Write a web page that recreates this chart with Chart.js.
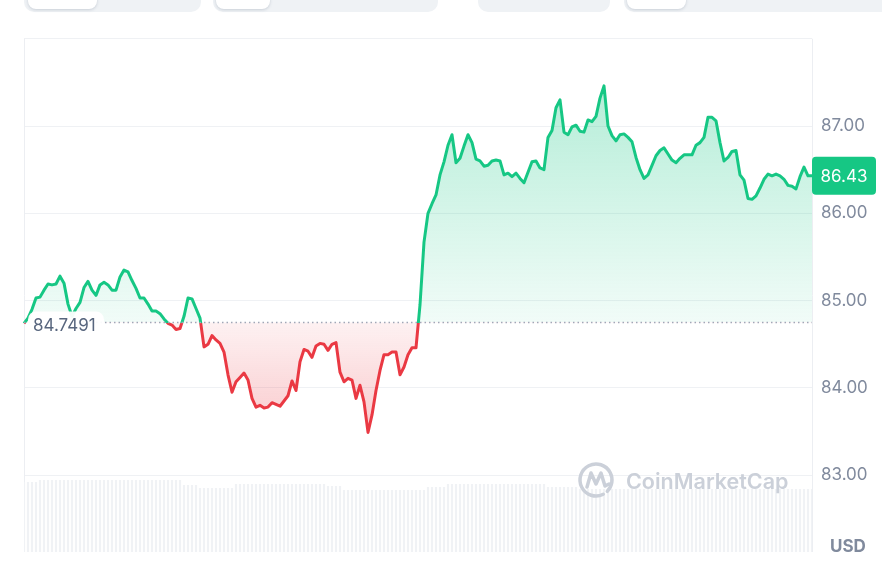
<!DOCTYPE html>
<html>
<head>
<meta charset="utf-8">
<script src="https://cdn.jsdelivr.net/npm/chart.js@4.4.0/dist/chart.umd.min.js"></script>
<style>
html, body { margin: 0; padding: 0; background: #fff; }
body { width: 882px; height: 566px; position: relative; overflow: hidden; font-family: Inter, sans-serif; }
.tab { position: absolute; top: -10px; height: 22px; background: #eff2f5; border-radius: 0 0 10px 10px; }
.btn { position: absolute; top: -10px; height: 19px; background: #fff; border-radius: 0 0 8px 8px; box-shadow: 0 1px 3px rgba(88, 102, 126, .25); }
#chart { position: absolute; left: 0; top: 0; }
</style>
</head>
<body>
<div class="tab" style="left:24px;width:177px"></div>
<div class="btn" style="left:28px;width:69px"></div>
<div class="tab" style="left:213px;width:225px"></div>
<div class="btn" style="left:216px;width:54px"></div>
<div class="tab" style="left:478px;width:132px"></div>
<div class="tab" style="left:624px;width:270px"></div>
<div class="btn" style="left:627px;width:59px"></div>
<canvas id="chart" width="882" height="566"></canvas>
<script>
const GREEN = '#16c784';
const RED = '#ea3943';
const BASE = 84.7491;   // opening price (dotted line)
const LAST = 86.43;     // current price tag
const yTicks = [83, 84, 85, 86, 87, 88];

// price, one point per sample (24h)
const prices = [
    84.74, 84.80, 84.90, 85.03, 85.04, 85.12, 85.19, 85.18, 85.19, 85.28,
    85.20, 84.96, 84.82, 84.91, 84.98, 85.15, 85.22, 85.12, 85.06, 85.18,
    85.21, 85.18, 85.12, 85.12, 85.27, 85.35, 85.33, 85.23, 85.14, 85.03,
    85.03, 84.96, 84.88, 84.88, 84.85, 84.79, 84.74, 84.72, 84.67, 84.68,
    84.82, 85.03, 85.02, 84.91, 84.80, 84.47, 84.50, 84.60, 84.55, 84.51,
    84.41, 84.15, 83.95, 84.07, 84.12, 84.17, 84.09, 83.88, 83.78, 83.80,
    83.77, 83.78, 83.83, 83.81, 83.79, 83.85, 83.91, 84.08, 83.97, 84.30,
    84.44, 84.42, 84.35, 84.48, 84.51, 84.50, 84.43, 84.50, 84.52, 84.18,
    84.07, 84.11, 84.09, 83.88, 84.03, 83.84, 83.49, 83.69, 83.97, 84.20,
    84.38, 84.38, 84.41, 84.41, 84.15, 84.24, 84.38, 84.46, 84.46, 84.95,
    85.67, 86.00, 86.11, 86.21, 86.44, 86.59, 86.78, 86.90, 86.58, 86.63,
    86.77, 86.90, 86.81, 86.62, 86.60, 86.54, 86.55, 86.60, 86.61, 86.60,
    86.44, 86.46, 86.42, 86.46, 86.40, 86.35, 86.47, 86.59, 86.60, 86.52,
    86.50, 86.87, 86.95, 87.21, 87.30, 86.93, 86.90, 86.99, 87.01, 86.94,
    86.93, 87.07, 87.05, 87.11, 87.32, 87.46, 87.00, 86.89, 86.83, 86.90,
    86.91, 86.87, 86.82, 86.64, 86.50, 86.40, 86.44, 86.55, 86.66, 86.72,
    86.75, 86.68, 86.61, 86.58, 86.63, 86.67, 86.67, 86.67, 86.78, 86.81,
    86.87, 87.10, 87.10, 87.06, 86.81, 86.60, 86.64, 86.71, 86.72, 86.44,
    86.38, 86.17, 86.16, 86.20, 86.29, 86.39, 86.45, 86.43, 86.45, 86.43,
    86.39, 86.32, 86.31, 86.28, 86.42, 86.53, 86.43, 86.43
];

// volume (relative), same samples
const volumes = [
    70, 70, 70, 70, 72, 72, 72, 72, 72, 72, 72, 72, 72, 72, 72, 72, 72, 72, 72, 72,
    72, 72, 72, 72, 72, 72, 72, 72, 72, 72, 72, 72, 72, 72, 72, 72, 72, 72, 72, 72,
    67, 67, 67, 67, 64, 64, 64, 64, 64, 64, 64, 64, 64, 68, 68, 68, 68, 68, 68, 68,
    68, 68, 68, 68, 68, 68, 68, 68, 68, 68, 68, 68, 68, 68, 68, 68, 66, 66, 66, 66,
    62, 62, 62, 62, 62, 62, 62, 62, 62, 62, 62, 62, 62, 62, 62, 62, 62, 62, 62, 62,
    62, 65, 65, 65, 65, 65, 68, 68, 68, 68, 68, 68, 68, 68, 68, 68, 68, 68, 68, 68,
    68, 68, 68, 68, 68, 68, 68, 68, 68, 68, 68, 65, 65, 65, 65, 65, 65, 65, 65, 63,
    63, 63, 63, 63, 63, 63, 63, 63, 63, 63, 63, 63, 63, 63, 63, 63, 63, 63, 63, 63,
    63, 63, 63, 63, 63, 63, 63, 63, 63, 63, 63, 63, 63, 63, 63, 63, 63, 63, 63, 63,
    63, 63, 63, 63, 63, 63, 63, 63, 63, 63, 63, 63, 63, 63, 63, 63, 63, 63
];

const labels = prices.map((_, i) => i);

function lineGradient(chart) {
    const { ctx, chartArea, scales } = chart;
    if (!chartArea) return GREEN;
    const f = (scales.y.getPixelForValue(BASE) - chartArea.top) / (chartArea.bottom - chartArea.top);
    const g = ctx.createLinearGradient(0, chartArea.top, 0, chartArea.bottom);
    g.addColorStop(0, GREEN);
    g.addColorStop(f, GREEN);
    g.addColorStop(f, RED);
    g.addColorStop(1, RED);
    return g;
}

function fillGradient(chart) {
    const { ctx, chartArea, scales } = chart;
    if (!chartArea) return 'rgba(22,199,132,0.15)';
    const h = chartArea.bottom - chartArea.top;
    const frac = v => Math.min(1, Math.max(0, (scales.y.getPixelForValue(v) - chartArea.top) / h));
    const f = frac(BASE);
    const g = ctx.createLinearGradient(0, chartArea.top, 0, chartArea.bottom);
    g.addColorStop(0, 'rgba(22,199,132,0.32)');
    g.addColorStop(frac(87.3), 'rgba(22,199,132,0.30)');
    g.addColorStop(f - 0.001, 'rgba(22,199,132,0.06)');
    g.addColorStop(f, 'rgba(234,57,67,0.07)');
    g.addColorStop(frac(83.6), 'rgba(234,57,67,0.25)');
    g.addColorStop(1, 'rgba(234,57,67,0.25)');
    return g;
}

const extras = {
    id: 'extras',
    beforeDatasetsDraw(chart) {
        const { ctx, chartArea } = chart;
        ctx.save();
        ctx.strokeStyle = '#eceef2';
        ctx.lineWidth = 1;
        ctx.beginPath();
        ctx.moveTo(chartArea.left + 0.5, chartArea.top);
        ctx.lineTo(chartArea.left + 0.5, chartArea.bottom);
        ctx.moveTo(chartArea.right + 0.5, chartArea.top);
        ctx.lineTo(chartArea.right + 0.5, chartArea.bottom);
        ctx.stroke();
        ctx.restore();
    },
    afterDatasetsDraw(chart) {
        const { ctx, chartArea, scales } = chart;
        const yb = scales.y.getPixelForValue(BASE);
        ctx.save();
        // dotted open-price line
        ctx.setLineDash([1.5, 3]);
        ctx.strokeStyle = '#a1a7b7';
        ctx.lineWidth = 1.5;
        ctx.beginPath();
        ctx.moveTo(chartArea.left, yb);
        ctx.lineTo(chartArea.right, yb);
        ctx.stroke();
        ctx.setLineDash([]);
        // open price label
        ctx.fillStyle = 'rgba(255,255,255,0.95)';
        ctx.beginPath();
        ctx.roundRect(28, yb - 11, 76, 26, 8);
        ctx.fill();
        ctx.fillStyle = '#58667e';
        ctx.font = '17px Inter';
        ctx.textBaseline = 'middle';
        ctx.textAlign = 'left';
        ctx.fillText(BASE.toString(), 33, yb + 3);
        // current price tag
        const yl = scales.y.getPixelForValue(LAST);
        ctx.fillStyle = GREEN;
        ctx.beginPath();
        ctx.roundRect(chartArea.right, yl - 19, 64, 38, 4);
        ctx.fill();
        ctx.fillStyle = '#fff';
        ctx.textAlign = 'center';
        ctx.fillText(LAST.toFixed(2), chartArea.right + 32, yl + 1);
        // currency
        ctx.fillStyle = '#808a9d';
        ctx.font = 'bold 17px Inter';
        ctx.textAlign = 'left';
        ctx.fillText('USD', 830, 547);
        // watermark
        ctx.strokeStyle = '#cbd0d9';
        ctx.lineWidth = 3.5;
        ctx.lineCap = 'round';
        ctx.lineJoin = 'round';
        ctx.beginPath();
        ctx.arc(596, 480, 16, 0.35 * Math.PI, 2.25 * Math.PI);
        ctx.stroke();
        ctx.beginPath();
        ctx.moveTo(587, 487);
        ctx.lineTo(591, 473);
        ctx.lineTo(596, 484);
        ctx.lineTo(601, 473);
        ctx.lineTo(605, 486);
        ctx.lineTo(609, 484);
        ctx.stroke();
        ctx.fillStyle = '#cbd0d9';
        ctx.font = '600 21.5px Inter';
        ctx.textBaseline = 'alphabetic';
        ctx.fillText('CoinMarketCap', 626, 489);
        ctx.restore();
    }
};

new Chart(document.getElementById('chart'), {
    type: 'line',
    data: {
        labels: labels,
        datasets: [{
            type: 'line',
            data: prices,
            yAxisID: 'y',
            borderWidth: 3,
            borderJoinStyle: 'round',
            pointRadius: 0,
            tension: 0,
            borderColor: ctx => lineGradient(ctx.chart),
            backgroundColor: ctx => fillGradient(ctx.chart),
            fill: { value: BASE },
            order: 1
        }, {
            type: 'bar',
            data: volumes,
            yAxisID: 'vol',
            backgroundColor: '#f0f2f5',
            barPercentage: 0.55,
            categoryPercentage: 1,
            order: 2
        }]
    },
    options: {
        responsive: false,
        animation: false,
        layout: { padding: { left: 24, top: 38.75, bottom: 14, right: 0 } },
        plugins: { legend: { display: false }, tooltip: { enabled: false } },
        scales: {
            x: { type: 'category', display: false, offset: false },
            y: {
                position: 'right',
                min: 82.12,
                max: 88,
                afterBuildTicks: s => { s.ticks = yTicks.map(v => ({ value: v })); },
                afterFit: s => { s.width = 70; s.paddingTop = 0; s.paddingBottom = 0; },
                grid: { color: '#eff1f4', drawTicks: false },
                border: { display: false },
                ticks: {
                    padding: 9,
                    color: '#808a9d',
                    font: { family: 'Inter', size: 17 },
                    callback: v => (v === 88 ? '' : v.toFixed(2))
                }
            },
            vol: { display: false, min: 0, max: 513 }
        }
    },
    plugins: [extras]
});
</script>
</body>
</html>
